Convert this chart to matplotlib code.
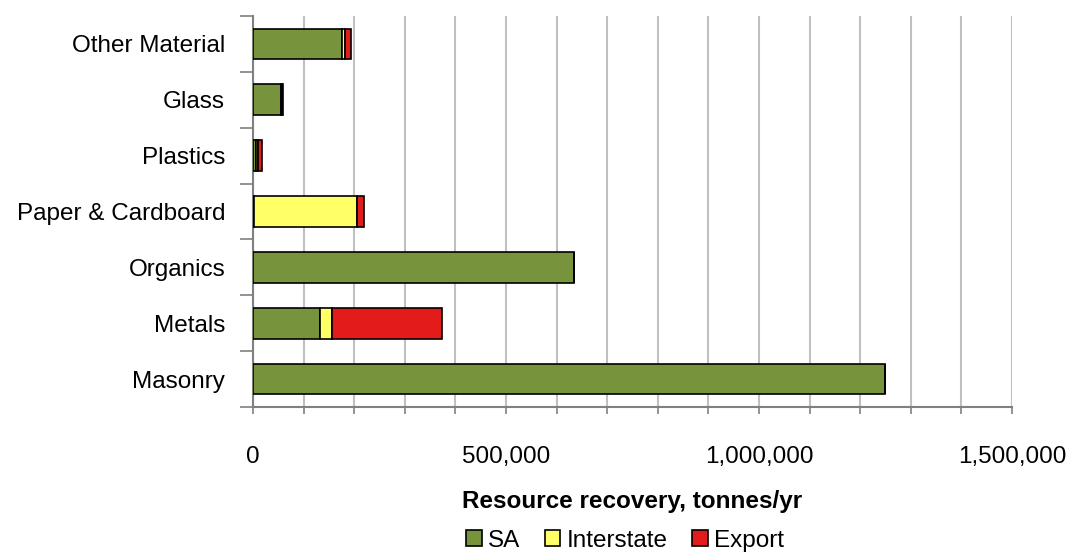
import numpy as np
import matplotlib.pyplot as plt
from matplotlib.ticker import FuncFormatter, MultipleLocator

plt.rcParams['font.family'] = ['Liberation Sans', 'DejaVu Sans']

categories = ['Masonry', 'Metals', 'Organics', 'Paper & Cardboard',
              'Plastics', 'Glass', 'Other Material']
sa = [1250000, 132000, 634000, 2000, 7000, 55000, 175000]
interstate = [0, 24000, 0, 204000, 3000, 2000, 7000]
export = [0, 217000, 0, 14000, 7000, 3000, 11000]

colors = {'SA': '#77933C', 'Interstate': '#FFFF66', 'Export': '#E41B1B'}

fig = plt.figure(figsize=(10.7, 5.53), dpi=100)
ax = fig.add_axes([0.2364, 0.264, 0.7094, 0.707])

y = np.arange(len(categories))
sa = np.array(sa)
interstate = np.array(interstate)
export = np.array(export)

h = 0.55
ax.barh(y, sa, height=h, color=colors['SA'], edgecolor='black', linewidth=1.2, label='SA', zorder=3)
ax.barh(y, interstate, left=sa, height=h, color=colors['Interstate'], edgecolor='black',
        linewidth=1.2, label='Interstate', zorder=3)
ax.barh(y, export, left=sa + interstate, height=h, color=colors['Export'], edgecolor='black',
        linewidth=1.2, label='Export', zorder=3)

ax.set_xlim(0, 1500000)
ax.set_ylim(-0.5, len(categories) - 0.5)

ax.xaxis.set_major_locator(MultipleLocator(500000))
ax.xaxis.set_minor_locator(MultipleLocator(100000))
ax.xaxis.set_major_formatter(FuncFormatter(lambda v, p: f'{int(v):,}'))
ax.grid(True, axis='x', which='both', color='#C0C0C0', linewidth=1.5, zorder=0)
ax.tick_params(axis='x', which='both', direction='out', length=5, width=1.2,
               color='#808080', labelsize=17.5, pad=23)

ax.set_yticks(y)
ax.set_yticklabels(categories, fontsize=17.5)
ax.set_yticks(np.arange(-0.5, len(categories), 1), minor=True)
ax.tick_params(axis='y', which='major', length=0, pad=20)
ax.tick_params(axis='y', which='minor', direction='out', length=9.5, width=1.2, color='#808080')

for side in ['top', 'right']:
    ax.spines[side].set_visible(False)
for side in ['left', 'bottom']:
    ax.spines[side].set_color('#808080')
    ax.spines[side].set_linewidth(1.5)

ax.set_xlabel('Resource recovery, tonnes/yr', fontsize=17.5, fontweight='bold', labelpad=16)

fig.legend(loc='center', bbox_to_anchor=(0.584, 0.022), ncol=3, frameon=False,
           fontsize=17.5, handlelength=0.65, handleheight=0.65, handletextpad=0.25,
           columnspacing=1.0, borderpad=0)

fig.savefig('out.png', dpi=100)
